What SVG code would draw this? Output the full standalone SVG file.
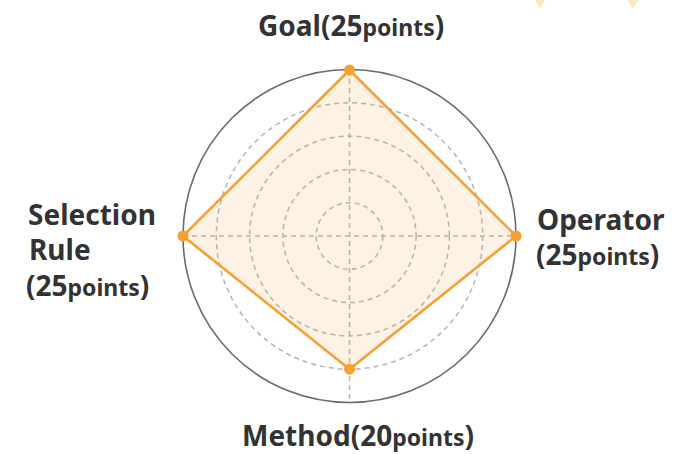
<svg xmlns="http://www.w3.org/2000/svg" width="687" height="454" viewBox="0 0 687 454">
<style>
  .lbl { font-family: "Noto Sans", "Open Sans", sans-serif; font-weight: 700; font-size: 28px; fill: #333333; }
  .sm { font-size: 23px; }
  .ring { fill: none; stroke: #b4b4b4; stroke-width: 1.5; stroke-dasharray: 5 4; }
  .axis { stroke: #b4b4b4; stroke-width: 1.5; stroke-dasharray: 5 4; }
  .dot { fill: #f5a031; }
</style>
<rect width="687" height="454" fill="#ffffff"/>
<g id="decor">
  <polygon points="535,0 545,0 540,9" fill="#fde4c3"/>
  <polygon points="628,0 638,0 633,9" fill="#fde4c3"/>
</g>
<g id="grid">
  <circle cx="349.5" cy="236" r="33.3" class="ring"/>
  <circle cx="349.5" cy="236" r="66.6" class="ring"/>
  <circle cx="349.5" cy="236" r="99.9" class="ring"/>
  <circle cx="349.5" cy="236" r="133.2" class="ring"/>
  <line x1="349.5" y1="70" x2="349.5" y2="402" class="axis"/>
  <line x1="183" y1="236" x2="516" y2="236" class="axis"/>
  <circle cx="349.5" cy="236" r="166.5" fill="none" stroke="#6a6a6a" stroke-width="1.6"/>
</g>
<g id="connectors">
  <polygon points="349.5,70 516,236 349.5,369.2 183,236" fill="#f9a640" fill-opacity="0.14" stroke="#f5a031" stroke-width="2.6" stroke-linejoin="round"/>
</g>
<g id="node-goal">
  <circle cx="349.5" cy="70" r="5.5" class="dot"/>
  <text class="lbl" x="258" y="35.5">Goal(25<tspan class="sm">points</tspan>)</text>
</g>
<g id="node-operator">
  <circle cx="516" cy="236" r="5.5" class="dot"/>
  <text class="lbl" x="537" y="230">Operator</text>
  <text class="lbl" x="536" y="265">(25<tspan class="sm">points</tspan>)</text>
</g>
<g id="node-method">
  <circle cx="349.5" cy="369.2" r="5.5" class="dot"/>
  <text class="lbl" x="242" y="445.5">Method(20<tspan class="sm">points</tspan>)</text>
</g>
<g id="node-selection">
  <circle cx="183" cy="236" r="5.5" class="dot"/>
  <text class="lbl" x="28" y="225">Selection</text>
  <text class="lbl" x="29" y="260">Rule</text>
  <text class="lbl" x="26" y="295.5">(25<tspan class="sm">points</tspan>)</text>
</g>
</svg>
